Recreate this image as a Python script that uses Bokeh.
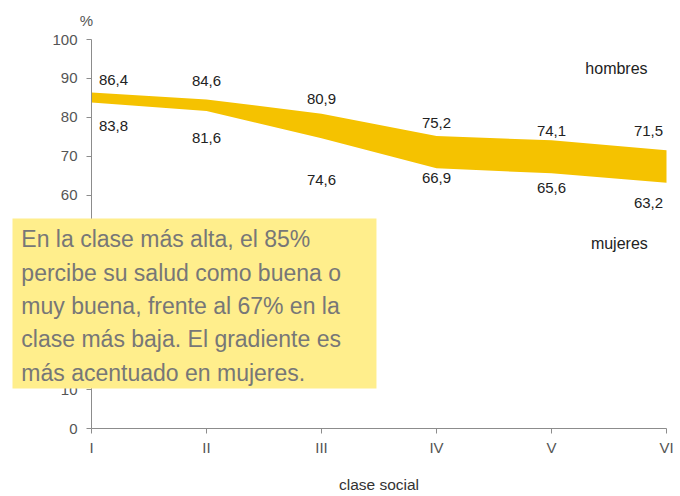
from bokeh.plotting import figure
from bokeh.models import Label, FixedTicker, ColumnDataSource, BoxAnnotation
from bokeh.core.properties import value
from bokeh.embed import file_html
from bokeh.resources import INLINE

# data
clases = ["I", "II", "III", "IV", "V", "VI"]
hombres = [86.4, 84.6, 80.9, 75.2, 74.1, 71.5]
mujeres = [83.8, 81.6, 74.6, 66.9, 65.6, 63.2]
y_ticks = [0, 10, 20, 30, 40, 50, 60, 70, 80, 90, 100]

# label styling offsets (pixels)
lab_dx = [22, 0, 0, 0, 0, -18]
hom_dy = [-12, -18, -15, -13, -9, -19]
muj_dy = [23, 27, 42, 10, 15, 20]

FONT = "Liberation Sans"
xs = list(range(len(clases)))

W, H = 676, 492
PX_X = 115.0   # pixels per class
PX_Y = 3.89    # pixels per percent
X0, Y0 = 91, 428  # canvas position of the origin

p = figure(width=W, height=H, output_backend="svg", toolbar_location=None,
           x_range=(-X0 / PX_X, (W - X0) / PX_X),
           y_range=(-(H - Y0) / PX_Y, Y0 / PX_Y),
           min_border_left=0, min_border_right=0, min_border_top=0, min_border_bottom=0)
p.outline_line_color = None
p.grid.visible = False
p.background_fill_color = "white"

p.varea(x=xs, y1=mujeres, y2=hombres, fill_color="#F5C200")

def fmt(v):
    return ("%.1f" % v).replace(".", ",")

src_h = ColumnDataSource(dict(x=xs, y=hombres, t=[fmt(v) for v in hombres], dx=lab_dx, dy=hom_dy))
src_m = ColumnDataSource(dict(x=xs, y=mujeres, t=[fmt(v) for v in mujeres], dx=lab_dx, dy=muj_dy))
for s in (src_h, src_m):
    p.text(x="x", y="y", text="t", x_offset="dx", y_offset="dy", source=s,
           text_font=value(FONT), text_font_size="15px", text_color="#222222",
           text_align="center", text_baseline="middle")

# axes
for ax in (p.xaxis[0], p.yaxis[0]):
    ax.fixed_location = 0
    ax.axis_line_color = "#8c8c8c"
    ax.major_tick_line_color = "#8c8c8c"
    ax.minor_tick_line_color = None
    ax.major_tick_in = 0
    ax.major_tick_out = 5
    ax.major_label_text_font = FONT
    ax.major_label_text_font_size = "15px"
    ax.major_label_text_color = "#555555"

p.xaxis.bounds = (0, len(clases) - 1)
p.xaxis.ticker = FixedTicker(ticks=xs)
p.xaxis.major_label_overrides = {i: c for i, c in enumerate(clases)}
p.xaxis.major_label_standoff = 5
p.xaxis.axis_label = "clase social"
p.xaxis.axis_label_text_font = FONT
p.xaxis.axis_label_text_font_size = "15.5px"
p.xaxis.axis_label_text_font_style = "normal"
p.xaxis.axis_label_text_color = "#333333"
p.xaxis.axis_label_standoff = 17

p.yaxis.bounds = (0, 100)
p.yaxis.ticker = FixedTicker(ticks=y_ticks)
p.yaxis.major_label_standoff = 9

p.add_layout(Label(x=0, y=100, x_offset=-5, y_offset=19, text="%", text_align="center",
                   text_baseline="middle", text_font=FONT, text_font_size="15px",
                   text_color="#555555"))

p.add_layout(Label(x=4.565, y=92.5, text="hombres", text_align="center", text_baseline="middle",
                   text_font=FONT, text_font_size="16px", text_color="#222222"))
p.add_layout(Label(x=4.59, y=47.6, text="mujeres", text_align="center", text_baseline="middle",
                   text_font=FONT, text_font_size="16px", text_color="#222222"))

# note box (drawn above the axes)
p.add_layout(BoxAnnotation(left=-0.687, right=2.478, bottom=10.28, top=53.98,
                           fill_color="#FFEE8C", fill_alpha=1.0, line_color=None,
                           level="annotation"))
nota = ("En la clase más alta, el 85%\n"
        "percibe su salud como buena o\n"
        "muy buena, frente al 67% en la\n"
        "clase más baja. El gradiente es\n"
        "más acentuado en mujeres.")
p.add_layout(Label(x=-0.61, y=52.0, text=nota, text_align="left", text_baseline="top",
                   text_font=FONT, text_font_size="23px", text_color="#777777",
                   text_line_height=1.285, level="overlay"))

open("out.html", "w").write(file_html(p, INLINE))
